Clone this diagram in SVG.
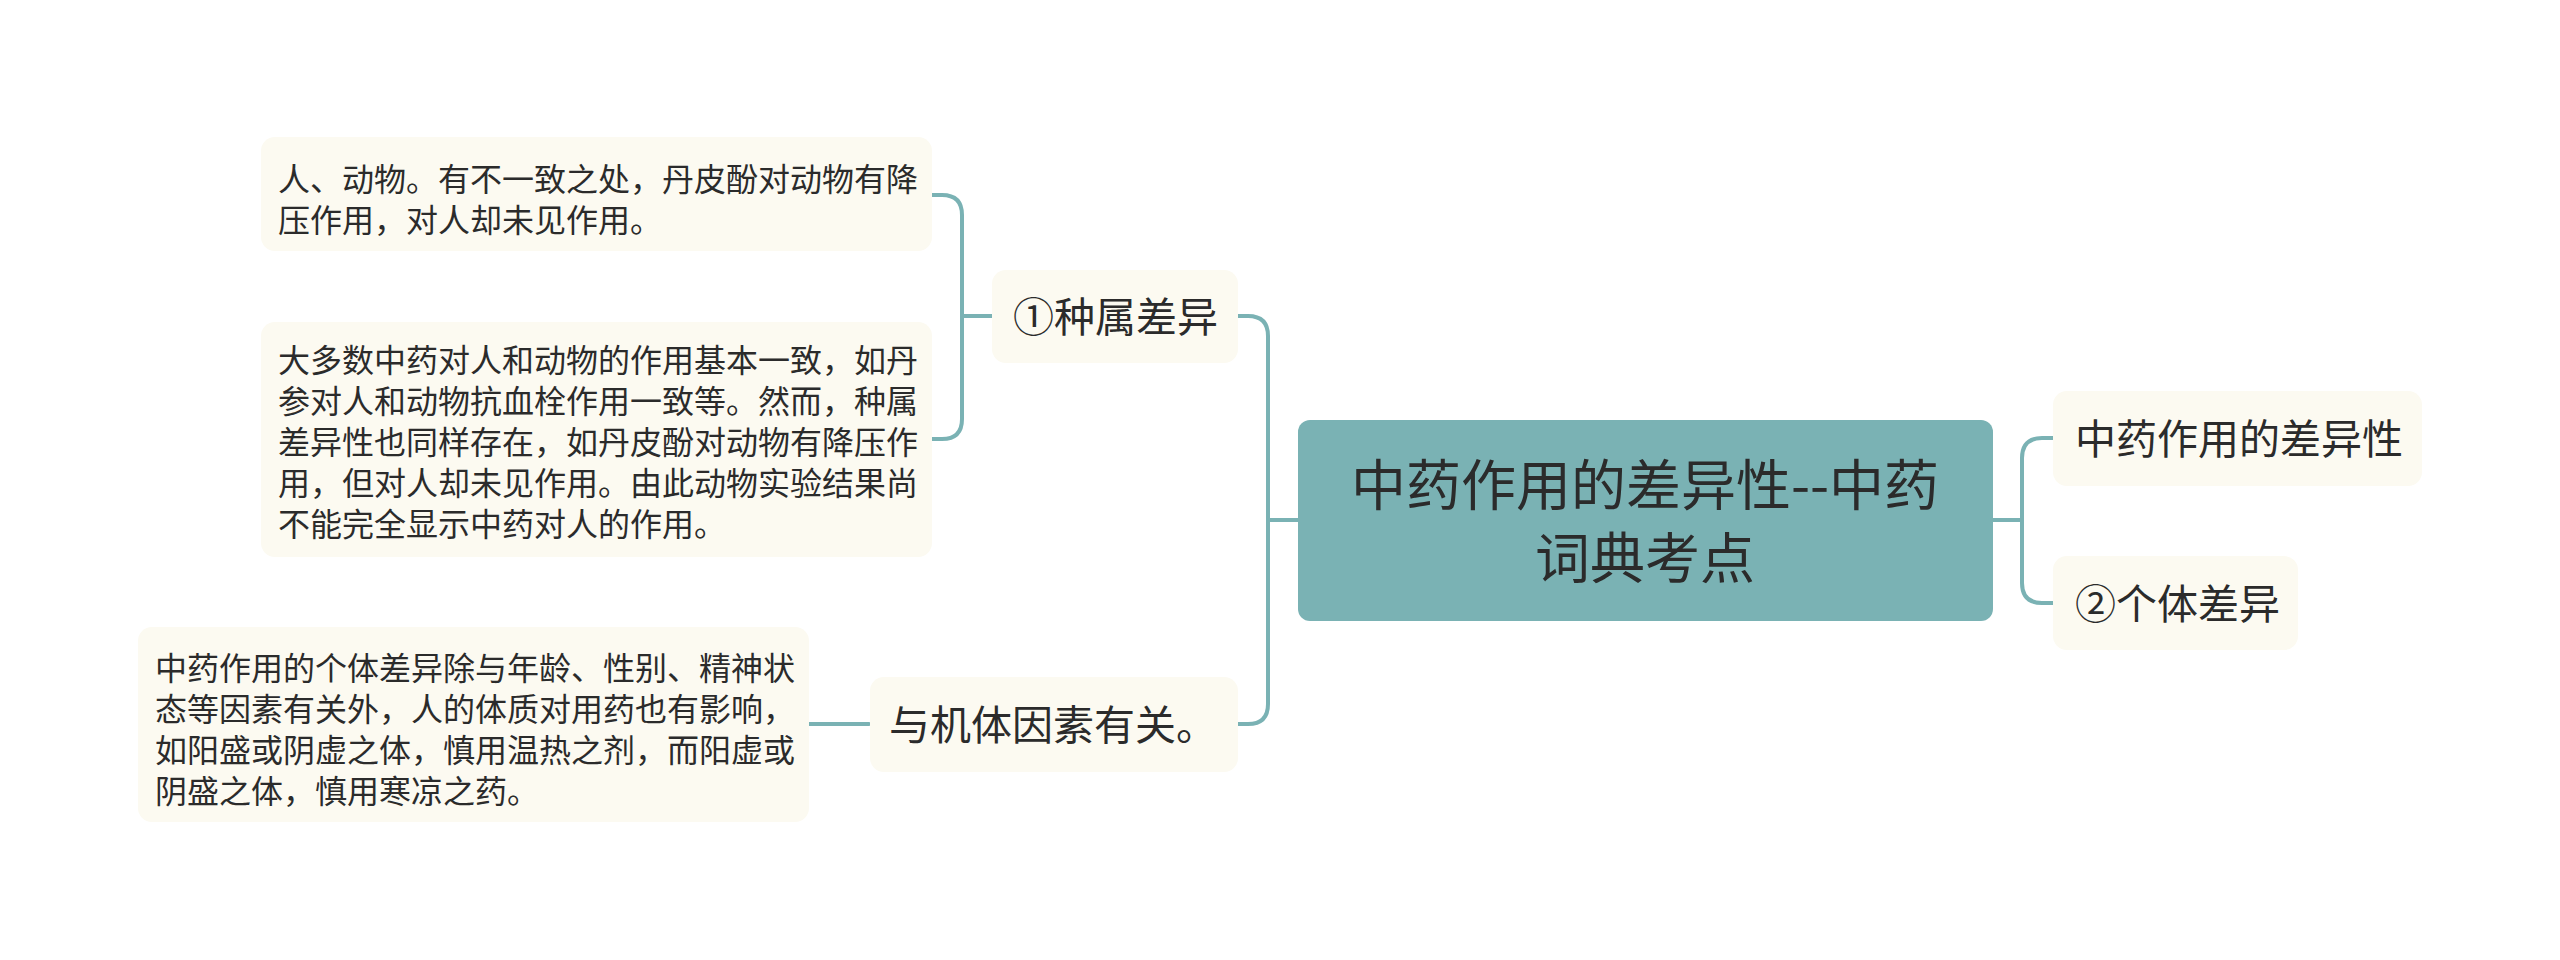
<svg xmlns="http://www.w3.org/2000/svg" width="2560" height="960" viewBox="0 0 2560 960">
<style>
.bg{fill:#ffffff}
.box{fill:#fcfaf1}
.root{fill:#7ab2b4}
.t{font-family:"Noto Sans CJK SC","Noto Sans",sans-serif;fill:#2b2b2b}
.s{font-size:32px}
.m{font-size:41px}
.l{font-size:55px;text-anchor:middle}
.c{fill:none;stroke:#7ab2b4;stroke-width:4;stroke-linecap:round}
</style>
<rect class="bg" x="0" y="0" width="2560" height="960"/>
<g id="connectors">
<path class="c" d="M1298 520 H1268"/>
<path class="c" d="M1238 316 H1248 Q1268 316 1268 336 V704 Q1268 724 1248 724 H1238"/>
<path class="c" d="M1993 520 H2022"/>
<path class="c" d="M2053 438 H2042 Q2022 438 2022 458 V583 Q2022 603 2042 603 H2053"/>
<path class="c" d="M992 316 H962"/>
<path class="c" d="M932 195 H942 Q962 195 962 215 V419 Q962 439 942 439 H932"/>
<path class="c" d="M809 724 H869"/>
</g>
<g id="root">
<rect class="root" x="1298" y="420" width="695" height="201" rx="12"/>
<text class="t l" x="1645" y="505">中药作用的差异性--中药</text>
<text class="t l" x="1645" y="578">词典考点</text>
</g>
<g id="n-species">
<rect class="box" x="992" y="270" width="246" height="93" rx="14"/>
<text class="t m" x="1013" y="332">①种属差异</text>
</g>
<g id="n-body">
<rect class="box" x="870" y="677" width="368" height="95" rx="14"/>
<text class="t m" x="889" y="740">与机体因素有关。</text>
</g>
<g id="n-diff">
<rect class="box" x="2053" y="391" width="369" height="95" rx="14"/>
<text class="t m" x="2075" y="454">中药作用的差异性</text>
</g>
<g id="n-indiv">
<rect class="box" x="2053" y="556" width="245" height="94" rx="14"/>
<text class="t m" x="2075" y="619">②个体差异</text>
</g>
<g id="leaf-1">
<rect class="box" x="261" y="137" width="671" height="114" rx="14"/>
<text class="t s" x="278" y="191">人、动物。有不一致之处，丹皮酚对动物有降</text>
<text class="t s" x="278" y="232">压作用，对人却未见作用。</text>
</g>
<g id="leaf-2">
<rect class="box" x="261" y="322" width="671" height="235" rx="14"/>
<text class="t s" x="278" y="372">大多数中药对人和动物的作用基本一致，如丹</text>
<text class="t s" x="278" y="413">参对人和动物抗血栓作用一致等。然而，种属</text>
<text class="t s" x="278" y="454">差异性也同样存在，如丹皮酚对动物有降压作</text>
<text class="t s" x="278" y="495">用，但对人却未见作用。由此动物实验结果尚</text>
<text class="t s" x="278" y="536">不能完全显示中药对人的作用。</text>
</g>
<g id="leaf-3">
<rect class="box" x="138" y="627" width="671" height="195" rx="14"/>
<text class="t s" x="155" y="680">中药作用的个体差异除与年龄、性别、精神状</text>
<text class="t s" x="155" y="721">态等因素有关外，人的体质对用药也有影响，</text>
<text class="t s" x="155" y="762">如阳盛或阴虚之体，慎用温热之剂，而阳虚或</text>
<text class="t s" x="155" y="803">阴盛之体，慎用寒凉之药。</text>
</g>
</svg>
